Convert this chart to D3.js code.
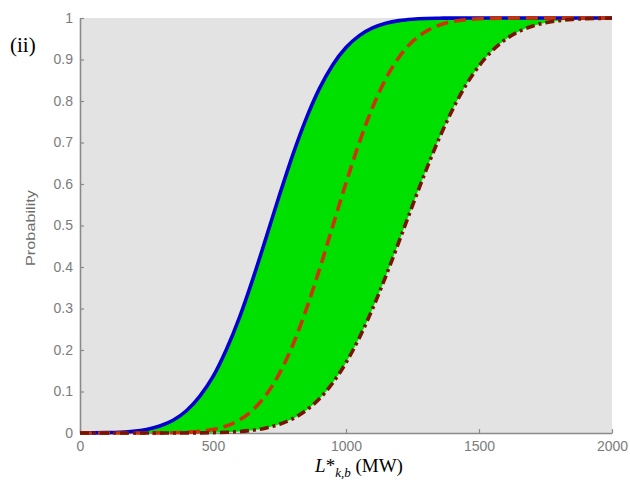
<!DOCTYPE html>
<html>
<head>
<meta charset="utf-8">
<script src="https://cdn.jsdelivr.net/npm/d3@7"></script>
<style>
  html, body { margin: 0; padding: 0; background: #ffffff; }
  svg { display: block; }
</style>
</head>
<body>
<svg id="chart" width="630" height="484"></svg>
<script>
// Load levels (MW) at which the cumulative probabilities are sampled
const loadMW = [0, 50, 100, 150, 200, 250, 300, 350, 400, 450, 500, 550, 600, 650, 700,
  750, 800, 850, 900, 950, 1000, 1050, 1100, 1150, 1200, 1250, 1300, 1350, 1400, 1450,
  1500, 1550, 1600, 1650, 1700, 1750, 1800, 1850, 1900, 1950, 2000];

// Lower bound CDF (blue, solid)
const cdfLower = [0.0001, 0.0003, 0.0008, 0.0019, 0.0041, 0.0087, 0.0170, 0.0307, 0.0537, 0.0885,
  0.1357, 0.2005, 0.2793, 0.3715, 0.4713, 0.5734, 0.6704, 0.7571, 0.8299, 0.8869,
  0.9288, 0.9576, 0.9761, 0.9873, 0.9937, 0.9970, 0.9987, 0.9994, 0.9998, 0.9999,
  1, 1, 1, 1, 1, 1, 1, 1, 1, 1, 1];

// Central CDF (red, dashed)
const cdfMid = [0, 0, 0, 0, 0, 0.0001, 0.0003, 0.0007, 0.0018, 0.0040,
  0.0085, 0.0170, 0.0317, 0.0556, 0.0921, 0.1439, 0.2121, 0.2967, 0.3936, 0.4980,
  0.6022, 0.6998, 0.7847, 0.8538, 0.9061, 0.9432, 0.9676, 0.9826, 0.9912, 0.9959,
  0.9982, 0.9992, 0.9997, 0.9999, 1, 1, 1, 1, 1, 1, 1];

// Upper bound CDF (dark red, dash-dot)
const cdfUpper = [0, 0, 0, 0, 0, 0, 0, 0, 0.0002, 0.0004,
  0.0009, 0.0019, 0.0037, 0.0068, 0.0122, 0.0212, 0.0345, 0.0545, 0.0826, 0.1206,
  0.1693, 0.2293, 0.2995, 0.3783, 0.4622, 0.5482, 0.6316, 0.7095, 0.7785, 0.8372,
  0.8846, 0.9213, 0.9484, 0.9675, 0.9803, 0.9886, 0.9936, 0.9966, 0.9983, 0.9991, 0.9996];

const xTicks = [0, 500, 1000, 1500, 2000];
const yTicks = [0, 0.1, 0.2, 0.3, 0.4, 0.5, 0.6, 0.7, 0.8, 0.9, 1];

const svg = d3.select("#chart");
const plot = { left: 80, right: 612, top: 18, bottom: 433 };

const x = d3.scaleLinear().domain([0, 2000]).range([plot.left, plot.right]);
const y = d3.scaleLinear().domain([0, 1]).range([plot.bottom, plot.top]);

// plot background
svg.append("rect")
  .attr("x", plot.left).attr("y", plot.top)
  .attr("width", plot.right - plot.left).attr("height", plot.bottom - plot.top)
  .attr("fill", "#e3e3e3");

const axisColor = "#8a8a8a";
const labelColor = "#7c7c7c";

const yAxis = svg.append("g")
  .attr("transform", `translate(${plot.left},0)`)
  .call(d3.axisLeft(y).tickValues(yTicks).tickFormat(d3.format("")).tickSizeInner(-4).tickSizeOuter(0).tickPadding(7));
const xAxis = svg.append("g")
  .attr("transform", `translate(0,${plot.bottom})`)
  .call(d3.axisBottom(x).tickValues(xTicks).tickFormat(d3.format("d")).tickSizeInner(-4).tickSizeOuter(0).tickPadding(8));

[yAxis, xAxis].forEach(g => {
  g.select(".domain").attr("stroke", axisColor).attr("stroke-width", 1.6);
  g.selectAll(".tick line").attr("stroke", axisColor).attr("stroke-width", 1.2);
  g.selectAll(".tick text")
    .attr("fill", labelColor)
    .attr("font-family", "Arial, 'Liberation Sans', sans-serif")
    .attr("font-size", 14);
});

const rows = loadMW.map((v, i) => ({ mw: v, lo: cdfLower[i], mid: cdfMid[i], hi: cdfUpper[i] }));

// band between the lower and upper bounds
svg.append("path")
  .datum(rows)
  .attr("fill", "#00e000")
  .attr("d", d3.area()
    .curve(d3.curveMonotoneX)
    .x(d => x(d.mw))
    .y0(d => y(d.hi))
    .y1(d => y(d.lo)));

const line = key => d3.line().curve(d3.curveMonotoneX).x(d => x(d.mw)).y(d => y(d[key]));

svg.append("path").datum(rows)
  .attr("fill", "none").attr("stroke", "#0000d0").attr("stroke-width", 3.6)
  .attr("d", line("lo"));

svg.append("path").datum(rows)
  .attr("fill", "none").attr("stroke", "#cc3300").attr("stroke-width", 3.6)
  .attr("stroke-dasharray", "12,6")
  .attr("d", line("mid"));

svg.append("path").datum(rows)
  .attr("fill", "none").attr("stroke", "#7a1400").attr("stroke-width", 3.6)
  .attr("stroke-dasharray", "9,4,3,4")
  .attr("d", line("hi"));

// y axis title
svg.append("text")
  .attr("transform", "translate(35,228) rotate(-90)")
  .attr("text-anchor", "middle")
  .attr("fill", "#6e6e6e")
  .attr("font-family", "Arial, 'Liberation Sans', sans-serif")
  .attr("font-size", 12)
  .attr("textLength", 76)
  .attr("lengthAdjust", "spacingAndGlyphs")
  .text("Probability");

// x axis title: L*_{k,b} (MW)
const xt = svg.append("text")
  .attr("x", 359).attr("y", 472)
  .attr("text-anchor", "middle")
  .attr("fill", "#000")
  .attr("font-family", "'Times New Roman', 'Liberation Serif', serif")
  .attr("font-size", 19);
xt.append("tspan").attr("font-style", "italic").text("L");
xt.append("tspan").text("*");
xt.append("tspan").attr("font-style", "italic").attr("font-size", 13).attr("dy", 5).text("k,b");
xt.append("tspan").attr("dy", -5).text(" (MW)");

// panel label
svg.append("text")
  .attr("x", 10).attr("y", 52)
  .attr("fill", "#000")
  .attr("font-family", "'Times New Roman', 'Liberation Serif', serif")
  .attr("font-size", 21)
  .text("(ii)");
</script>
</body>
</html>
